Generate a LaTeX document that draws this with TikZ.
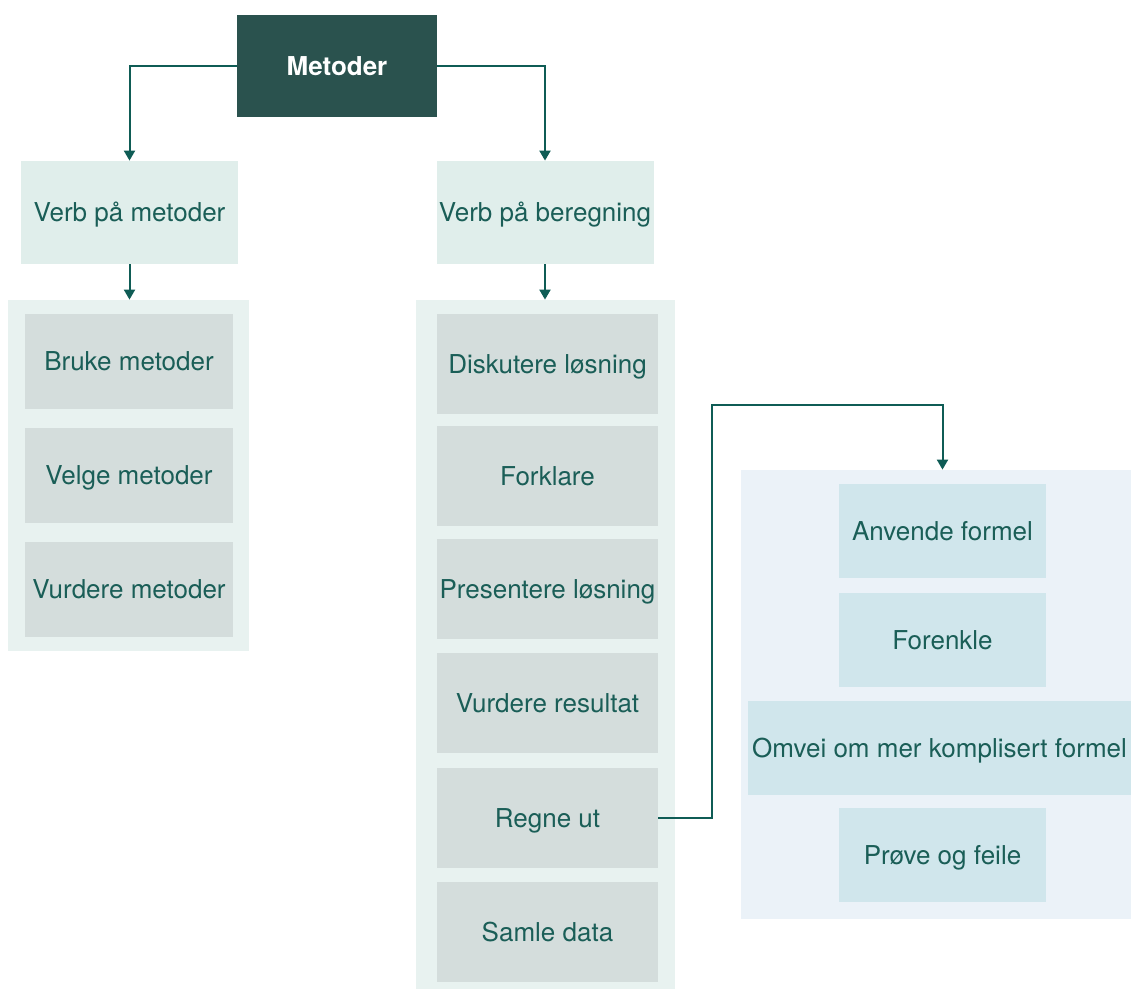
\documentclass[tikz,border=0pt]{standalone}
\usepackage{fontspec}
\setmainfont{TeX Gyre Heros}
\usetikzlibrary{arrows.meta}
\definecolor{topfill}{HTML}{2A524E}
\definecolor{linecol}{HTML}{0F5C55}
\definecolor{txtcol}{HTML}{1A5E57}
\definecolor{verbfill}{HTML}{E0EEEB}
\definecolor{grpfill}{HTML}{E8F2F0}
\definecolor{itemfill}{HTML}{D4DDDC}
\definecolor{subgrpfill}{HTML}{EBF2F8}
\definecolor{subitemfill}{HTML}{D0E6EC}
\begin{document}
\begin{tikzpicture}[x=0.5pt,y=-0.5pt,
		font=\fontsize{13}{15}\selectfont,
		box/.style={rectangle,inner sep=0pt,text=txtcol,text height=9.3pt,text depth=0pt},
		topbox/.style={box,fill=topfill,text=white,font=\fontsize{13}{15}\selectfont\bfseries,minimum width=100pt,minimum height=51pt},
		verbbox/.style={box,fill=verbfill,minimum width=108.5pt,minimum height=51.5pt},
		leftitem/.style={box,fill=itemfill,minimum width=104pt,minimum height=47.5pt},
		miditem/.style={box,fill=itemfill,minimum width=110.5pt,minimum height=50pt},
		subitem/.style={box,fill=subitemfill,minimum width=103.5pt,minimum height=47pt},
		conn/.style={draw=linecol,line width=1pt,-{Triangle[length=5pt,width=5.5pt]}}]
			\useasboundingbox (0,0) rectangle (1131,990);
			% groups
			\node[box,fill=grpfill,minimum width=120.5pt,minimum height=175.5pt] (leftgrp) at (128.5,475.5) {};
			\node[box,fill=grpfill,minimum width=129.5pt,minimum height=344.5pt] (midgrp) at (545.5,644.5) {};
			\node[box,fill=subgrpfill,minimum width=195pt,minimum height=224.5pt] (subgrp) at (936,694.5) {};
			% top
			\node[topbox] (metoder) at (337,66) {Metoder};
			\node[verbbox] (verbmet) at (129.5,212.5) {Verb på metoder};
			\node[verbbox] (verbber) at (545,212.5) {Verb på beregning};
			% left column
			\node[leftitem] (bruke) at (129,361.5) {Bruke metoder};
			\node[leftitem] (velge) at (129,475.5) {Velge metoder};
			\node[leftitem] (vurdmet) at (129,589.5) {Vurdere metoder};
			% middle column
			\node[miditem] (diskutere) at (547.5,364) {Diskutere løsning};
			\node[miditem] (forklare) at (547.5,476) {Forklare};
			\node[miditem] (presentere) at (547.5,589) {Presentere løsning};
			\node[miditem] (vurdres) at (547.5,703) {Vurdere resultat};
			\node[miditem] (regne) at (547.5,818) {Regne ut};
			\node[miditem] (samle) at (547.5,932) {Samle data};
			% right column
			\node[subitem] (anvende) at (942.5,531) {Anvende formel};
			\node[subitem] (forenkle) at (942.5,640) {Forenkle};
			\node[subitem,minimum width=191.5pt] (omvei) at (939.5,748) {Omvei om mer komplisert formel};
			\node[subitem] (prove) at (942.5,855) {Prøve og feile};
			% connectors
			\draw[conn] (metoder.west) -| (verbmet.north);
			\draw[conn] (metoder.east) -| (verbber.north);
			\draw[conn] (verbmet.south) -- (verbmet.south |- leftgrp.north);
			\draw[conn] (verbber.south) -- (verbber.south |- midgrp.north);
			\coordinate (bend) at (712,405);
			\draw[conn] (regne.east) -| (bend) -| (anvende.north |- subgrp.north);
		\end{tikzpicture}
\end{document}
